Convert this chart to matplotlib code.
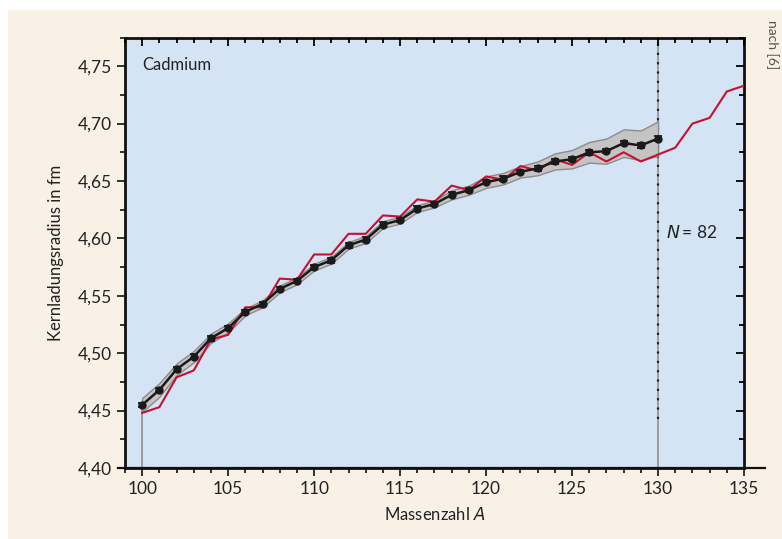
import numpy as np
import matplotlib
matplotlib.use("Agg")
import matplotlib.pyplot as plt
from matplotlib.patches import Rectangle
from matplotlib.lines import Line2D
from matplotlib.ticker import MultipleLocator, FuncFormatter

plt.rcParams['font.family'] = ['Lato', 'DejaVu Sans']

# Messwerte (schwarz) fuer A = 100..130
mass_meas = np.arange(100, 131)
radius_meas = [4.455, 4.468, 4.486, 4.497, 4.513, 4.522, 4.536, 4.543, 4.556, 4.563,
               4.575, 4.581, 4.594, 4.599, 4.612, 4.616, 4.626, 4.630, 4.638, 4.642,
               4.649, 4.652, 4.658, 4.661, 4.667, 4.669, 4.675, 4.676, 4.683, 4.681,
               4.687]
band_half = [0.006, 0.006, 0.005, 0.005, 0.004, 0.004, 0.003, 0.003, 0.003, 0.003,
             0.003, 0.003, 0.003, 0.003, 0.003, 0.003, 0.003, 0.003, 0.004, 0.004,
             0.005, 0.005, 0.005, 0.006, 0.007, 0.008, 0.009, 0.011, 0.012, 0.013,
             0.015]
point_err = 0.002

# Theorie (rot) fuer A = 100..135
mass_theo = np.arange(100, 136)
radius_theo = [4.448, 4.453, 4.479, 4.485, 4.512, 4.516, 4.540, 4.540, 4.565, 4.564,
               4.586, 4.586, 4.604, 4.604, 4.620, 4.619, 4.634, 4.632, 4.646, 4.642,
               4.654, 4.651, 4.663, 4.659, 4.669, 4.664, 4.675, 4.667, 4.675, 4.667,
               4.673, 4.679, 4.700, 4.705, 4.728, 4.733]

magic_A = 130
x_ticks = [100, 105, 110, 115, 120, 125, 130, 135]
y_ticks = [4.40, 4.45, 4.50, 4.55, 4.60, 4.65, 4.70, 4.75]

W, H = 782, 539
fig = plt.figure(figsize=(W / 100, H / 100), dpi=100, facecolor='white')
fig.patches.append(Rectangle((8 / W, 0), 1, (H - 10) / H, transform=fig.transFigure,
                             facecolor='#f9f0e6', edgecolor='none', zorder=-10))

ax = fig.add_axes([125 / W, 1 - 468 / H, (744 - 125) / W, (468 - 37.5) / H])
ax.set_facecolor('#d4e4f4')
ax.set_xlim(99, 135)
ax.set_ylim(4.40, 4.775)

rm = np.array(radius_meas)
bh = np.array(band_half)

# senkrechte Hilfslinien
ax.plot([100, 100], [4.40, rm[0]], color='#909090', lw=1.2, zorder=1)
ax.axvline(magic_A, color='#909090', lw=1.2, zorder=1)
ax.plot([magic_A, magic_A], [4.443, 4.775], color='#222222', lw=1.6,
        linestyle=(0, (1, 3.2)), zorder=2)

ax.fill_between(mass_meas, rm - bh, rm + bh, facecolor='#c4c4c4', edgecolor='#8c8c8c',
                lw=1.0, zorder=3)
ax.plot(mass_theo, radius_theo, color='#c8102e', lw=1.5, zorder=4)
ax.errorbar(mass_meas, rm, yerr=point_err, color='#1a1a1a', lw=1.8, marker='o', ms=5,
            capsize=3.2, elinewidth=1.3, capthick=1.3, zorder=5)

ax.text(100.0, 4.751, 'Cadmium', fontsize=12, ha='left', va='center', color='#222222')
ax.text(130.45, 4.605, r'$N\,$= 82', fontsize=12.5, ha='left', va='center', color='#222222')

ax.set_xticks(x_ticks)
ax.set_yticks(y_ticks)
ax.xaxis.set_minor_locator(MultipleLocator(1))
ax.yaxis.set_minor_locator(MultipleLocator(0.025))
ax.yaxis.set_major_formatter(FuncFormatter(lambda v, p: f'{v:.2f}'.replace('.', ',')))
ax.tick_params(which='both', direction='out', labelsize=12.5, colors='#222222', width=1.3)
ax.tick_params(which='major', length=6)
ax.tick_params(which='minor', length=3.5)
for side in ['left', 'right', 'top', 'bottom']:
    ax.spines[side].set_linewidth(2)
    ax.spines[side].set_color('#111111')

# Ticks oben und rechts nach innen
ax_top = ax.twiny()
ax_top.set_xlim(ax.get_xlim())
ax_top.set_xticks(x_ticks)
ax_top.xaxis.set_minor_locator(MultipleLocator(1))
ax_top.tick_params(axis='x', which='both', direction='in', labeltop=False, width=1.3)
ax_right = ax.twinx()
ax_right.set_ylim(ax.get_ylim())
ax_right.set_yticks(y_ticks)
ax_right.yaxis.set_minor_locator(MultipleLocator(0.025))
ax_right.tick_params(axis='y', which='both', direction='in', labelright=False, width=1.3)
for a in (ax_top, ax_right):
    a.tick_params(which='major', length=6)
    a.tick_params(which='minor', length=3.5)
    for s in a.spines.values():
        s.set_visible(False)

# verlaengerte Grundlinie
fig.add_artist(Line2D([118 / W, 765 / W], [1 - 468 / H, 1 - 468 / H],
                      color='#111111', lw=1.6, transform=fig.transFigure))

ax.set_xlabel(r'Massenzahl $A$', fontsize=12, color='#222222', labelpad=6)
ax.set_ylabel('Kernladungsradius in fm', fontsize=12, color='#222222', labelpad=10)

fig.text(766 / W, 1 - 20 / H, 'nach [6]', rotation=270, fontsize=10, color='#555555',
         ha='left', va='top')

fig.savefig('out.png', dpi=100, facecolor='white')
